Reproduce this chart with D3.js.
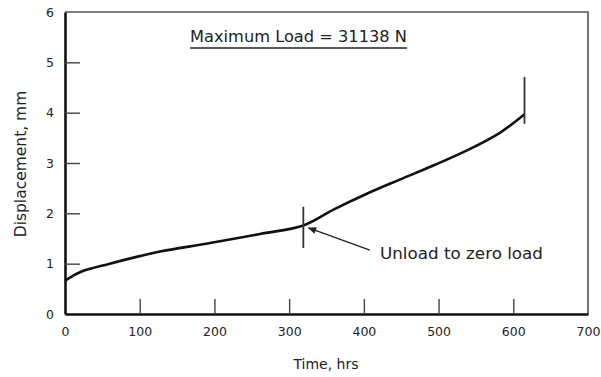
<!DOCTYPE html>
<html>
<head>
<meta charset="utf-8">
<script src="https://cdn.jsdelivr.net/npm/d3@7"></script>
<style>
  body { margin: 0; background: #fff; }
  text { font-family: "DejaVu Sans", Verdana, sans-serif; fill: #222; }
</style>
</head>
<body>
<div id="chart"></div>
<script>
// Creep curve (time in hrs, displacement in mm)
const timeHrs = [0, 20, 60, 100, 127, 194, 261, 319, 360, 404, 448, 493, 538, 582, 615];
const dispMm  = [0.66, 0.83, 1.00, 1.15, 1.24, 1.41, 1.59, 1.76, 2.08, 2.39, 2.67, 2.95, 3.25, 3.60, 3.97];

// Vertical markers: unload point and end of test
const markerTime = [319, 615];
const markerLow  = [1.31, 3.78];
const markerHigh = [2.13, 4.71];

const xTicks = [0, 100, 200, 300, 400, 500, 600, 700];
const yTicks = [0, 1, 2, 3, 4, 5, 6];

const titleText = "Maximum Load = 31138 N";
const noteText = "Unload to zero load";

const margin = { top: 12, right: 13, bottom: 63, left: 65 },
      width = 601 - margin.left - margin.right,
      height = 377 - margin.top - margin.bottom;

const svg = d3.select("#chart").append("svg")
    .attr("width", 601)
    .attr("height", 377)
  .append("g")
    .attr("transform", `translate(${margin.left},${margin.top})`);

const x = d3.scaleLinear().domain([0, 700]).range([0, width]);
const y = d3.scaleLinear().domain([0, 6]).range([height, 0]);

// Top and right frame (thin, grey)
svg.append("path")
    .attr("d", `M0,0H${width}V${height}`)
    .attr("fill", "none")
    .attr("stroke", "#555")
    .attr("stroke-width", 1.6);

// X axis, ticks pointing inward
const xAxis = svg.append("g")
    .attr("transform", `translate(0,${height})`)
    .call(d3.axisBottom(x).tickValues(xTicks).tickSizeInner(-15).tickSizeOuter(0).tickPadding(13).tickFormat(d3.format("d")));
xAxis.select(".domain").attr("stroke", "#111").attr("stroke-width", 2.6);
xAxis.selectAll(".tick line").attr("stroke", "#444").attr("stroke-width", 1.4)
    .filter(d => d === 0 || d === 700).remove();
xAxis.selectAll(".tick text").style("font-size", "12.5px").style("font-family", "DejaVu Sans").attr("fill", "#222");

// Y axis, ticks pointing inward
const yAxis = svg.append("g")
    .call(d3.axisLeft(y).tickValues(yTicks).tickSizeInner(-15).tickSizeOuter(0).tickPadding(11).tickFormat(d3.format("d")));
yAxis.select(".domain").attr("stroke", "#111").attr("stroke-width", 2.6);
yAxis.selectAll(".tick line").attr("stroke", "#444").attr("stroke-width", 1.4)
    .filter(d => d === 0 || d === 6).remove();
yAxis.selectAll(".tick text").style("font-size", "12.5px").style("font-family", "DejaVu Sans").attr("fill", "#222");

// Curve
const curveData = timeHrs.map((t, i) => ({ t: t, d: dispMm[i] }));
svg.append("path")
    .datum(curveData)
    .attr("fill", "none")
    .attr("stroke", "#111")
    .attr("stroke-width", 2.6)
    .attr("d", d3.line().x(d => x(d.t)).y(d => y(d.d)).curve(d3.curveCatmullRom.alpha(0.5)));

// Marker lines
svg.selectAll(".marker")
    .data(markerTime)
    .enter()
    .append("line")
      .attr("class", "marker")
      .attr("x1", d => x(d))
      .attr("x2", d => x(d))
      .attr("y1", (d, i) => y(markerLow[i]))
      .attr("y2", (d, i) => y(markerHigh[i]))
      .attr("stroke", "#333")
      .attr("stroke-width", 1.8);

// Arrow annotation
svg.append("defs").append("marker")
    .attr("id", "arrow")
    .attr("viewBox", "0 0 10 10")
    .attr("refX", 9).attr("refY", 5)
    .attr("markerWidth", 8).attr("markerHeight", 6)
    .attr("orient", "auto")
  .append("path")
    .attr("d", "M0,1L10,5L0,9Z")
    .attr("fill", "#222");

svg.append("line")
    .attr("x1", x(408)).attr("y1", y(1.27))
    .attr("x2", x(326)).attr("y2", y(1.71))
    .attr("stroke", "#222")
    .attr("stroke-width", 1.4)
    .attr("marker-end", "url(#arrow)");

svg.append("text")
    .attr("x", 380 - margin.left)
    .attr("y", 259 - margin.top)
    .attr("textLength", 163)
    .attr("lengthAdjust", "spacingAndGlyphs")
    .style("font-size", "15px")
    .text(noteText);

// Title with underline
svg.append("text")
    .attr("x", 190 - margin.left)
    .attr("y", 42 - margin.top)
    .attr("textLength", 217)
    .attr("lengthAdjust", "spacingAndGlyphs")
    .style("font-size", "15px")
    .text(titleText);
svg.append("line")
    .attr("x1", 190 - margin.left).attr("x2", 407 - margin.left)
    .attr("y1", 48 - margin.top).attr("y2", 48 - margin.top)
    .attr("stroke", "#222")
    .attr("stroke-width", 1.3);

// Axis labels
svg.append("text")
    .attr("x", 326 - margin.left)
    .attr("y", 369 - margin.top)
    .attr("text-anchor", "middle")
    .style("font-size", "14px")
    .text("Time, hrs");

svg.append("text")
    .attr("transform", "rotate(-90)")
    .attr("x", -(164 - margin.top))
    .attr("y", -margin.left + 26)
    .attr("text-anchor", "middle")
    .style("font-size", "15.5px")
    .text("Displacement, mm");
</script>
</body>
</html>
